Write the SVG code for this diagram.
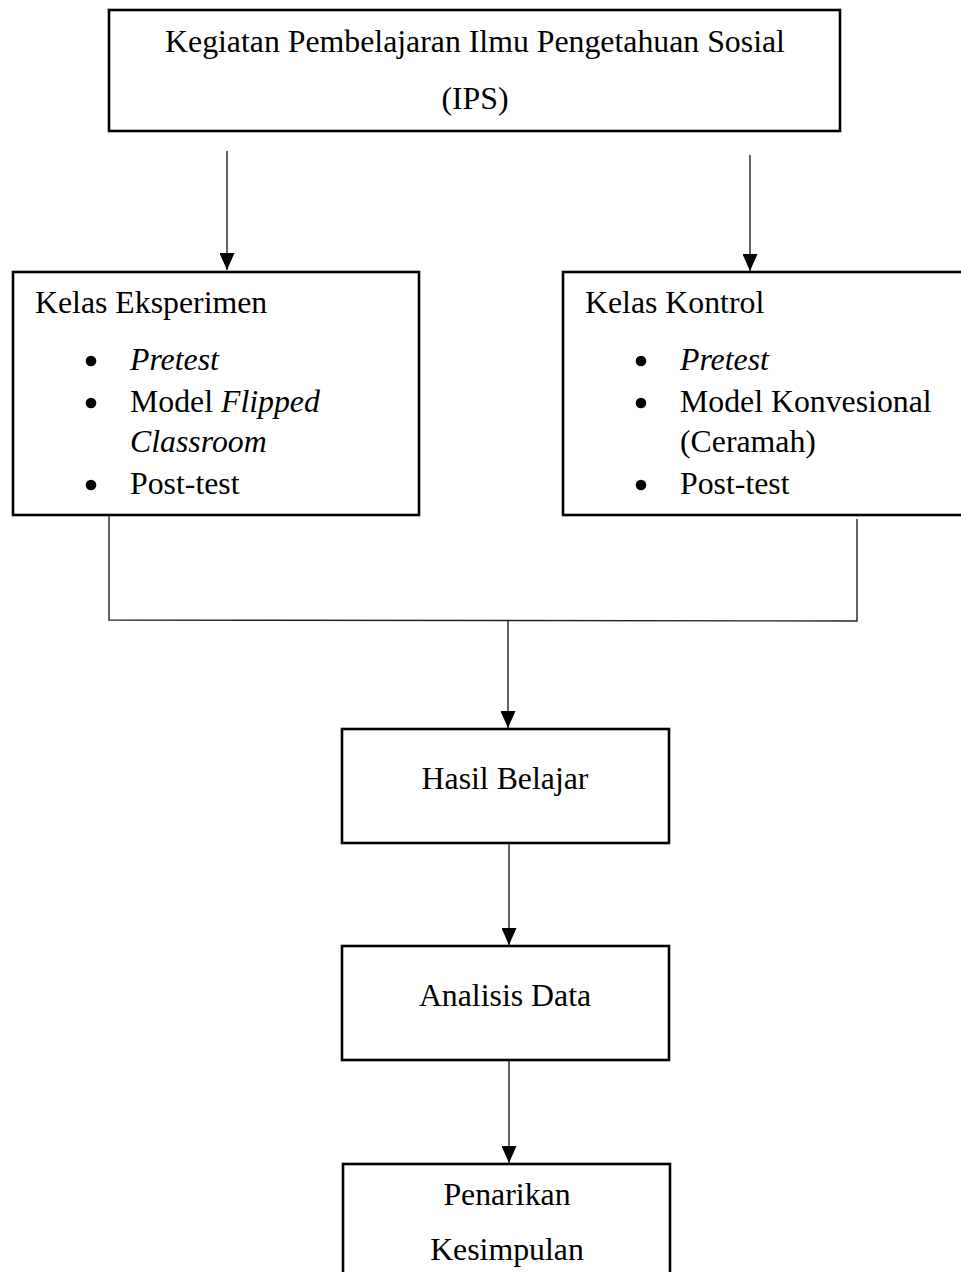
<svg xmlns="http://www.w3.org/2000/svg" width="961" height="1272" viewBox="0 0 961 1272">
  <style>
    .box { fill: #ffffff; stroke: #000000; stroke-width: 2.6; }
    .t { font-family: "Liberation Serif", "Times New Roman", serif; font-size: 31.8px; fill: #000000; }
    .c { text-anchor: middle; }
    .i { font-style: italic; }
    .link { fill: none; stroke: #222222; stroke-width: 1.4; }
    .dot { fill: #000000; }
  </style>
  <defs>
    <marker id="head" markerUnits="userSpaceOnUse" markerWidth="17" markerHeight="15" refX="17" refY="7.5" orient="auto" viewBox="0 0 17 15">
      <path d="M0,0 L17,7.5 L0,15 Z" fill="#000000"/>
    </marker>
  </defs>

  <!-- connectors -->
  <g id="connectors">
    <line class="link" x1="227" y1="151" x2="227" y2="270" marker-end="url(#head)"/>
    <line class="link" x1="750" y1="155" x2="750" y2="271" marker-end="url(#head)"/>
    <polyline class="link" points="109,515 109,620 857,621 857,519"/>
    <line class="link" x1="508" y1="620" x2="508" y2="728" marker-end="url(#head)"/>
    <line class="link" x1="509" y1="838" x2="509" y2="945" marker-end="url(#head)"/>
    <line class="link" x1="509" y1="1056" x2="509" y2="1163" marker-end="url(#head)"/>
  </g>

  <!-- top node -->
  <g id="kegiatan">
    <rect class="box" x="109" y="10" width="731" height="121"/>
    <text class="t c" x="475" y="52">Kegiatan Pembelajaran Ilmu Pengetahuan Sosial</text>
    <text class="t c" x="475" y="109">(IPS)</text>
  </g>

  <!-- experiment class -->
  <g id="kelas-eksperimen">
    <rect class="box" x="13" y="272" width="406" height="243"/>
    <text class="t" x="35" y="313">Kelas Eksperimen</text>
    <circle class="dot" cx="91" cy="361" r="5.3"/>
    <text class="t i" x="130" y="370">Pretest</text>
    <circle class="dot" cx="91" cy="403" r="5.3"/>
    <text class="t" x="130" y="412">Model <tspan class="i">Flipped</tspan></text>
    <text class="t i" x="130" y="452">Classroom</text>
    <circle class="dot" cx="91" cy="485" r="5.3"/>
    <text class="t" x="130" y="494">Post-test</text>
  </g>

  <!-- control class -->
  <g id="kelas-kontrol">
    <rect class="box" x="563" y="272" width="402" height="243"/>
    <text class="t" x="585" y="313">Kelas Kontrol</text>
    <circle class="dot" cx="641" cy="361" r="5.3"/>
    <text class="t i" x="680" y="370">Pretest</text>
    <circle class="dot" cx="641" cy="403" r="5.3"/>
    <text class="t" x="680" y="412">Model Konvesional</text>
    <text class="t" x="680" y="452">(Ceramah)</text>
    <circle class="dot" cx="641" cy="485" r="5.3"/>
    <text class="t" x="680" y="494">Post-test</text>
  </g>

  <!-- learning outcome -->
  <g id="hasil-belajar">
    <rect class="box" x="342" y="729" width="327" height="114"/>
    <text class="t c" x="505" y="789">Hasil Belajar</text>
  </g>

  <!-- data analysis -->
  <g id="analisis-data">
    <rect class="box" x="342" y="946" width="327" height="114"/>
    <text class="t c" x="505" y="1006">Analisis Data</text>
  </g>

  <!-- conclusion -->
  <g id="penarikan-kesimpulan">
    <rect class="box" x="343" y="1164" width="327" height="120"/>
    <text class="t c" x="507" y="1205">Penarikan</text>
    <text class="t c" x="507" y="1260">Kesimpulan</text>
  </g>
</svg>
